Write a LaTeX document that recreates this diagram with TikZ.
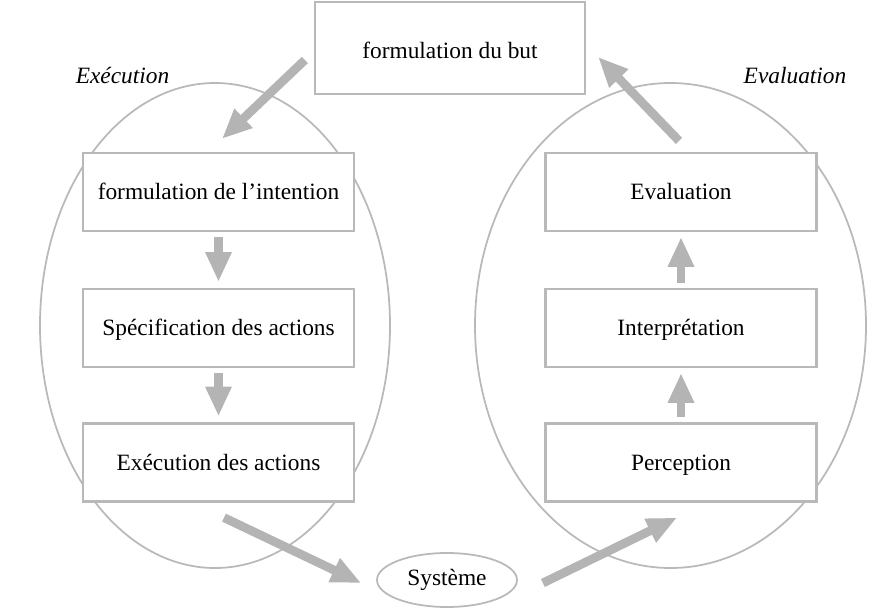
\documentclass[tikz,border=0pt]{standalone}
\usepackage{fontspec}
\setmainfont{Liberation Serif}
\usetikzlibrary{positioning,arrows.meta,shapes.geometric}
\definecolor{cyclegray}{RGB}{185,185,185}
\definecolor{flowgray}{RGB}{180,180,180}

\begin{document}
\begin{tikzpicture}[
  font=\fontsize{13.3}{16}\selectfont,
  etape/.style={draw=cyclegray, line width=1.3pt, fill=white, minimum width=5.42cm, minimum height=1.56cm, inner sep=0pt, text height=2.2ex, text depth=0.25ex},
  cycleellipse/.style={draw=cyclegray, line width=1pt, ellipse, inner sep=0pt},
  fleche/.style={draw=flowgray, line width=5pt, -{Triangle[length=17pt,width=14pt]}},
  phaselabel/.style={font=\fontsize{13.3}{16}\selectfont\itshape}
]
\useasboundingbox (0,0) rectangle (17.5,-12.16);

% the two cycles
\node[cycleellipse, minimum width=7cm, minimum height=9.7cm] (cyclexec) at (4.3, -6.51) {};
\node[cycleellipse, minimum width=7.82cm, minimum height=9.7cm] (cyclevalu) at (13.41, -6.51) {};

\node[phaselabel] (labexec) at (2.45, -1.52) {Exécution};
\node[phaselabel] (labevalu) at (15.9, -1.52) {Evaluation};

\node[etape, minimum width=5.4cm, minimum height=1.84cm, text height=2.7ex, text depth=0ex] (but) at (9.0, -0.96) {formulation du but};

\node[etape] (intention) at (4.37, -3.84) {formulation de l’intention};
\node[etape] (specif) at (4.37, -6.56) {Spécification des actions};
\node[etape] (execution) at (4.37, -9.25) {Exécution des actions};

\node[etape] (evaluation) at (13.62, -3.84) {Evaluation};
\node[etape] (interpretation) at (13.62, -6.56) {Interprétation};
\node[etape] (perception) at (13.62, -9.25) {Perception};

\node[cycleellipse, minimum width=2.8cm, minimum height=1.08cm] (systeme) at (8.94, -11.6) {Système};

% execution side
\draw[fleche] ([shift={(-0.18,-0.24)}]but.west) -- ([shift={(0.07,0.26)}]intention.north);
\draw[fleche, shorten <=2.8pt, shorten >=3.4pt] (intention) -- (specif);
\draw[fleche, shorten <=2.8pt, shorten >=3.4pt] (specif) -- (execution);
\draw[fleche] ([shift={(0.11,-0.3)}]execution.south) -- ([shift={(-0.3,-0.06)}]systeme.west);

% evaluation side
\draw[fleche] ([shift={(0.5,-0.06)}]systeme.east) -- ([shift={(-0.08,-0.3)}]perception.south);
\draw[fleche, shorten <=2.8pt, shorten >=2.8pt] (perception) -- (interpretation);
\draw[fleche, shorten <=2.8pt, shorten >=2.8pt] (interpretation) -- (evaluation);
\draw[fleche] ([shift={(-0.04,0.22)}]evaluation.north) -- ([shift={(0.24,-0.18)}]but.east);

\end{tikzpicture}
\end{document}
